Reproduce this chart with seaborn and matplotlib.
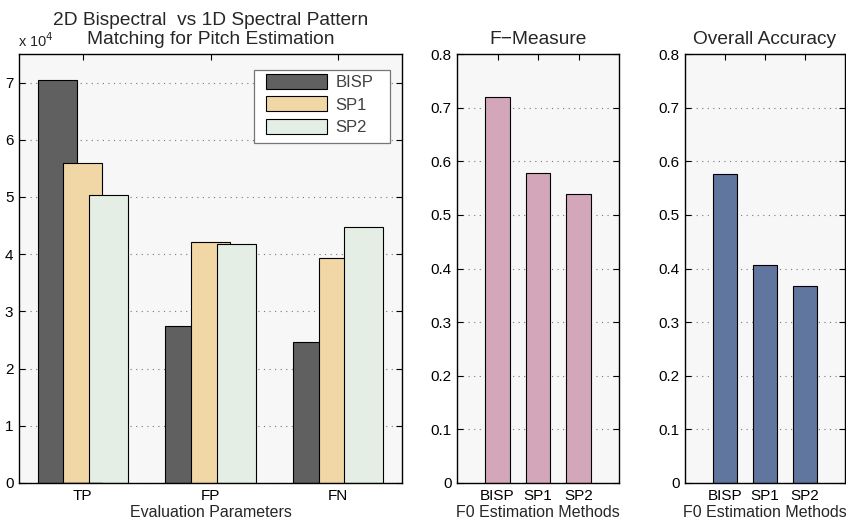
import numpy as np
import pandas as pd
import matplotlib
matplotlib.use("Agg")
import matplotlib.pyplot as plt
from matplotlib.patches import Rectangle
from matplotlib.ticker import FuncFormatter, FixedLocator
import seaborn as sns

sns.set_theme(style="white")
plt.rcParams["font.family"] = ["Liberation Sans", "DejaVu Sans"]

# Evaluation counts (TP / FP / FN) per F0 estimation method
parameters = ["TP", "FP", "FN"]
methods = ["BISP", "SP1", "SP2"]
bisp_counts = [70500, 27400, 24700]
sp1_counts = [55900, 42100, 39400]
sp2_counts = [50400, 41700, 44800]

# Summary scores per method
f_measure = [0.720, 0.579, 0.538]
overall_accuracy = [0.577, 0.407, 0.368]

group_colors = ["#606060", "#F2D7A6", "#E4EEE5"]
fmeasure_color = "#D3A6BA"
accuracy_color = "#61769F"
axes_bg = "#F7F7F7"

counts = pd.DataFrame({
    "parameter": np.repeat(parameters, len(methods)).tolist(),
    "method": methods * len(parameters),
    "count": [c[i] for i in range(len(parameters))
              for c in (bisp_counts, sp1_counts, sp2_counts)],
})
scores = pd.DataFrame({"method": methods, "f": f_measure, "acc": overall_accuracy})

W, H = 846, 526
fig = plt.figure(figsize=(W / 100, H / 100), dpi=100)
fig.patch.set_facecolor("white")

TICK_FS = 11
LABEL_FS = 11.5
TITLE_FS = 13.8


def px_axes(x0, x1, ytop, ybot):
    return fig.add_axes([x0 / W, (H - ybot) / H, (x1 - x0) / W, (ybot - ytop) / H])


def style_axes(ax):
    ax.set_facecolor(axes_bg)
    for s in ax.spines.values():
        s.set_visible(True)
        s.set_color("black")
        s.set_linewidth(1.0)
    ax.tick_params(direction="in", length=4, width=0.8, top=True, right=True,
                   bottom=True, left=True, labelsize=TICK_FS, colors="black", pad=4)
    ax.yaxis.grid(True, linestyle=(0, (1, 4)), color="#777777", linewidth=0.8)
    ax.xaxis.grid(False)
    ax.set_axisbelow(True)


# Left: grouped counts (overlapping bars, later series drawn on top)
ax1 = px_axes(19, 402, 54, 483)
sns.barplot(data=counts, x="parameter", y="count", hue="method",
            hue_order=methods, palette=group_colors, width=0.6,
            edgecolor="black", linewidth=0.8, saturation=1, ax=ax1)
for p in ax1.patches:
    cx = p.get_x() + p.get_width() / 2
    p.set_width(0.305)
    p.set_x(cx - 0.305 / 2)
style_axes(ax1)
ax1.set_xlim(-0.5, 2.5)
ax1.set_ylim(0, 75000)
ax1.yaxis.set_major_locator(FixedLocator(np.arange(0, 70001, 10000)))
ax1.yaxis.set_major_formatter(FuncFormatter(lambda v, _: f"{v / 1e4:g}"))
ax1.set_xlabel("Evaluation Parameters", fontsize=LABEL_FS, labelpad=2)
ax1.set_ylabel("")
ax1.set_title("2D Bispectral  vs 1D Spectral Pattern\nMatching for Pitch Estimation",
              fontsize=TITLE_FS, pad=7.5, linespacing=1.15)
ax1.text(-0.003, 1.01, r"x 10$^4$", transform=ax1.transAxes, fontsize=10.5,
         ha="left", va="bottom")

# Legend: boxed area drawn as a separate white frame behind the entries
frame = Rectangle(((254 - 19) / 383, (483 - 143) / 429), (390 - 254) / 383, (143 - 70) / 429,
                  transform=ax1.transAxes, facecolor="white", edgecolor="#777777",
                  linewidth=0.9, zorder=4.5)
ax1.add_patch(frame)
leg = ax1.legend(loc="upper left", bbox_to_anchor=((266 - 19) / 383, (483 - 74) / 429),
                 fontsize=12, handlelength=3.65, handleheight=1.02, labelspacing=0.36,
                 borderpad=0, handletextpad=0.5, borderaxespad=0,
                 frameon=False, title=None)
leg.set_zorder(6)
for t in leg.get_texts():
    t.set_color("#404040")


def score_panel(ax, col, color, title):
    sns.barplot(data=scores, x="method", y=col, color=color, width=0.6,
                edgecolor="black", linewidth=0.8, saturation=1, ax=ax)
    style_axes(ax)
    ax.set_xlim(-1, 3)
    ax.set_ylim(0, 0.8)
    ax.yaxis.set_major_locator(FixedLocator(np.arange(0, 0.81, 0.1)))
    ax.yaxis.set_major_formatter(FuncFormatter(lambda v, _: f"{v:.1f}" if v > 1e-9 else "0"))
    ax.set_xlabel("F0 Estimation Methods", fontsize=LABEL_FS, labelpad=2)
    ax.set_ylabel("")
    ax.set_title(title, fontsize=TITLE_FS, pad=7.5)


ax2 = px_axes(457, 619, 54, 483)
score_panel(ax2, "f", fmeasure_color, "F\u2212Measure")
ax3 = px_axes(685, 845, 54, 483)
score_panel(ax3, "acc", accuracy_color, "Overall Accuracy")

fig.savefig("out.png", dpi=100, facecolor="white")
